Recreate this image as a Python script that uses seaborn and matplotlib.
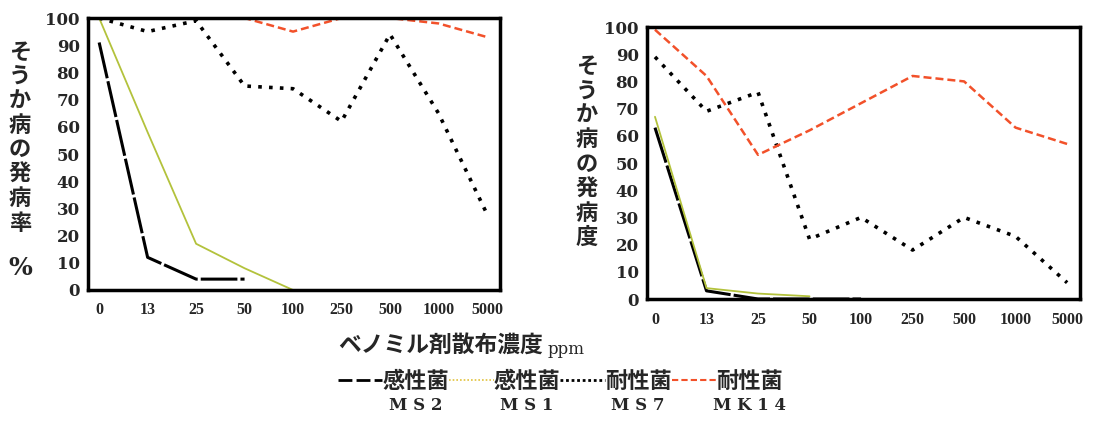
import numpy as np
import pandas as pd
import matplotlib
matplotlib.use("Agg")
import matplotlib.pyplot as plt
from matplotlib.lines import Line2D
import seaborn as sns

# ベノミル剤散布濃度 (ppm)
conc = ["0", "13", "25", "50", "100", "250", "500", "1000", "5000"]

# 左: そうか病の発病率 (%)
rate_ms2 = [91, 12, 4, 4]
rate_ms1 = [100, 58, 17, 8, 0]
rate_ms7 = [100, 95, 99, 75, 74, 62, 94, 65, 28]
rate_mk14 = [100, 100, 100, 100, 95, 100, 100, 98, 93]

# 右: そうか病の発病度
sev_ms2 = [63, 3, 0, 0, 0]
sev_ms1 = [67, 4, 2, 1]
sev_ms7 = [89, 69, 76, 22, 30, 18, 30, 23, 6]
sev_mk14 = [99, 82, 53, 62, 72, 82, 80, 63, 57]

strains = ["MS2", "MS1", "MS7", "MK14"]
kinds = ["感性菌", "感性菌", "耐性菌", "耐性菌"]

sns.set_style("white")
plt.rcParams['font.family'] = ['Noto Sans CJK JP', 'DejaVu Sans']

line_styles = {
    "MS2": dict(color="black", lw=2.2, linestyle=(0, (12, 1))),
    "MS1": dict(color="#b3c23c", lw=1.3, linestyle="-"),
    "MS7": dict(color="black", lw=2.6, linestyle=(0, (1, 2))),
    "MK14": dict(color="#f2512a", lw=1.8, linestyle=(0, (3.2, 1.6))),
}

W, H = 1098, 423
fig = plt.figure(figsize=(W / 100, H / 100), dpi=100)
ax1 = fig.add_axes([88 / W, 1 - 290 / H, 412 / W, 272 / H])
ax2 = fig.add_axes([647 / W, 1 - 299 / H, 433 / W, 272 / H])

tick_font = dict(family="DejaVu Serif", weight="bold", size=12)
xtick_font = dict(family="Liberation Serif", weight="bold", size=11.5)


def draw_panel(ax, series, xlim):
    for name, vals in zip(strains, series):
        df = pd.DataFrame({"x": np.arange(len(vals)), "y": vals})
        sns.lineplot(data=df, x="x", y="y", ax=ax, **line_styles[name])
    ax.set_xlim(*xlim)
    ax.set_ylim(0, 100)
    ax.set_xticks(np.arange(len(conc)))
    ax.set_xticklabels(conc, fontdict=xtick_font)
    ax.set_yticks(np.arange(0, 101, 10))
    ax.set_yticklabels([str(v) for v in range(0, 101, 10)], fontdict=tick_font)
    ax.tick_params(axis="x", length=0, pad=9)
    ax.tick_params(axis="y", length=4, width=1.5, pad=2, direction="out")
    ax.set_xlabel("")
    ax.set_ylabel("")
    for s in ax.spines.values():
        s.set_visible(True)
        s.set_linewidth(2.5)
        s.set_color("black")


draw_panel(ax1, [rate_ms2, rate_ms1, rate_ms7, rate_mk14], (-0.23, 8.27))
draw_panel(ax2, [sev_ms2, sev_ms1, sev_ms7, sev_mk14], (-0.155, 8.25))

jp = dict(family=['Noto Sans CJK JP', 'DejaVu Sans'], weight="bold")

# 縦書きの軸ラベル
ax1.text(-0.165, 0.56, "\n".join("そうか病の発病率"), transform=ax1.transAxes,
         ha="center", va="center", fontsize=16, linespacing=1.08, **jp)
ax1.text(-0.165, 0.08, "%", transform=ax1.transAxes, ha="center", va="center",
         fontsize=18, family="DejaVu Serif", weight="bold")
ax2.text(-0.139, 0.54, "\n".join("そうか病の発病度"), transform=ax2.transAxes,
         ha="center", va="center", fontsize=16, linespacing=1.08, **jp)

# 横軸の説明
fig.text(338 / W, 1 - 345 / H, "ベノミル剤散布濃度", ha="left", va="center",
         fontsize=16.4, **jp)
fig.text(548 / W, 1 - 349 / H, "ppm", ha="left", va="center",
         fontsize=12, family="DejaVu Serif")

# 凡例
handles = [
    Line2D([], [], color="black", lw=2.0, linestyle=(0, (5, 1.5))),
    Line2D([], [], color="#e2c23c", lw=1.2, linestyle=(0, (1, 1.2))),
    Line2D([], [], color="black", lw=2.0, linestyle=(0, (1, 1))),
    Line2D([], [], color="#f2512a", lw=1.5, linestyle=(0, (3, 1.5))),
]
leg = fig.legend(handles, kinds, ncol=4, loc="center left",
                 bbox_to_anchor=(338 / W, 1 - 381 / H), frameon=False,
                 handlelength=2.0, handletextpad=0.0, columnspacing=0.0,
                 borderpad=0, borderaxespad=0,
                 prop=dict(family='Noto Sans CJK JP', weight="bold", size=16))

fig.canvas.draw()
renderer = fig.canvas.get_renderer()
for txt, name in zip(leg.get_texts(), strains):
    bb = txt.get_window_extent(renderer)
    cx = (bb.x0 + bb.x1) / 2
    fig.text(cx / W, 1 - 405 / H, " ".join(name), ha="center", va="center",
             fontsize=12, family="DejaVu Serif", weight="bold")

fig.savefig("out.png", dpi=100)
